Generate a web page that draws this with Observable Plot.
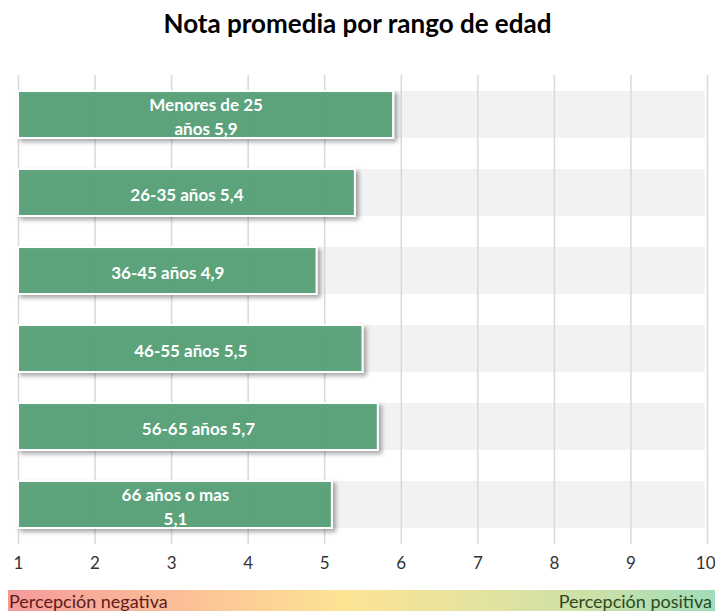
<!DOCTYPE html>
<html>
<head>
<meta charset="utf-8">
<script src="https://cdn.jsdelivr.net/npm/d3@7"></script>
<script src="https://cdn.jsdelivr.net/npm/@observablehq/plot@0.6"></script>
<style>
  body { margin: 0; background: #fff; width: 715px; overflow: hidden; font-family: Lato, "Open Sans", sans-serif; }
  #title { height: 50px; line-height: 46px; text-align: center; font-weight: bold; font-size: 26px; color: #000; }
  #chart svg { display: block; }
  #legend { margin: 5px 0 0 8px; width: 707px; height: 21px; display: flex; justify-content: space-between; align-items: flex-end;
    background: linear-gradient(to right, #f59a9a 0%, #fbb898 20%, #fdcf96 34%, #fde494 48%, #e2e3a0 68%, #c8e0a8 84%, #9fdcb9 100%);
    font-size: 18px; line-height: 20px; }
  #legend .neg { color: #5c1c1c; padding-left: 1px; }
  #legend .pos { color: #2c4a1e; padding-right: 3px; }
</style>
</head>
<body>
<div id="title">Nota promedia por rango de edad</div>
<div id="chart"></div>
<div id="legend"><span class="neg">Percepción negativa</span><span class="pos">Percepción positiva</span></div>
<script>
const categories = ["Menores de 25 años", "26-35 años", "36-45 años", "46-55 años", "56-65 años", "66 años o mas"];
const values = [5.9, 5.4, 4.9, 5.5, 5.7, 5.1];
const labels = ["Menores de 25\naños 5,9", "26-35 años 5,4", "36-45 años 4,9", "46-55 años 5,5", "56-65 años 5,7", "66 años o mas\n5,1"];
const tickValues = [1, 2, 3, 4, 5, 6, 7, 8, 9, 10];
const scaleMin = 1, scaleMax = 10;

const data = categories.map((c, i) => ({category: c, value: values[i], label: labels[i]}));

const chart = Plot.plot({
  width: 715,
  height: 535,
  marginTop: 25,
  marginBottom: 41,
  marginLeft: 18,
  marginRight: 8,
  style: {fontFamily: "Lato, 'Open Sans', sans-serif", background: "#fff"},
  x: {domain: [scaleMin, scaleMax], ticks: tickValues, label: null},
  y: {domain: categories, paddingInner: 0.4, paddingOuter: 0.18, axis: null},
  marks: [
    Plot.barX(data, {y: "category", x1: scaleMin, x2: scaleMax - 0.03, fill: "#f2f2f2"}),
    Plot.ruleX(tickValues, {stroke: "#d9d9d9", strokeWidth: 1.5}),
    Plot.barX(data, {y: "category", x1: scaleMin, x2: "value", fill: "#55a077", fillOpacity: 0.93, stroke: "#fff", strokeWidth: 2}),
    Plot.text(data, {y: "category", x: d => (scaleMin + d.value) / 2, text: "label", fill: "#fff", fontWeight: "bold", fontSize: 17, lineHeight: 1.4}),
    Plot.axisX(tickValues.filter(t => t < scaleMax), {tickSize: 0, tickPadding: 12, fontSize: 17, color: "#333", label: null, tickFormat: d => String(d)}),
    Plot.axisX([scaleMax], {tickSize: 0, tickPadding: 12, fontSize: 17, color: "#333", label: null, textAnchor: "end", dx: 8, tickFormat: d => String(d)})
  ]
});

// drop shadow for data bars
const defs = d3.select(chart).insert("defs", ":first-child");
const f = defs.append("filter").attr("id", "barShadow").attr("x", "-5%").attr("y", "-20%").attr("width", "115%").attr("height", "160%");
f.append("feDropShadow").attr("dx", 3).attr("dy", 3).attr("stdDeviation", 2.2).attr("flood-color", "#000").attr("flood-opacity", 0.35);
d3.select(chart).selectAll("g[aria-label='bar']").filter((d, i) => i === 1).attr("filter", "url(#barShadow)");

document.getElementById("chart").appendChild(chart);
</script>
</body>
</html>
